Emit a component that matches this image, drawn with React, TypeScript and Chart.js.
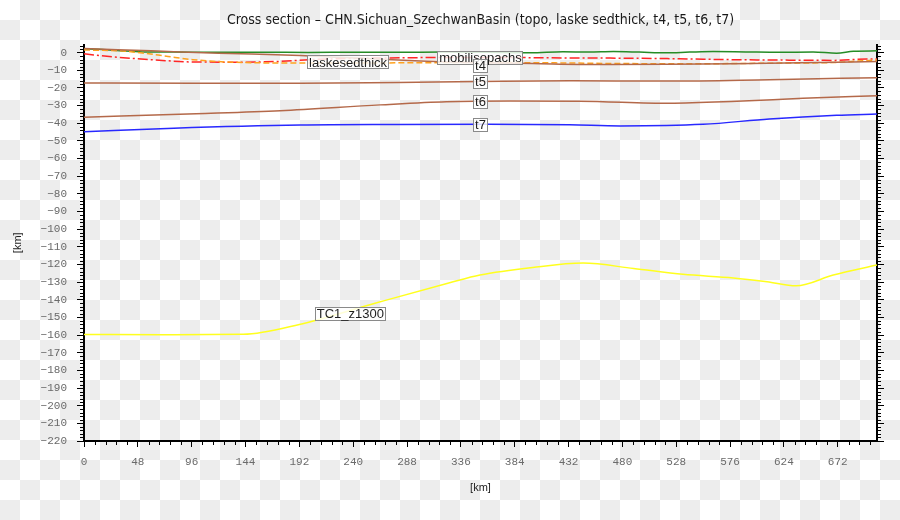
import React, { useEffect, useRef } from 'react';
import { Chart, registerables } from 'chart.js';

Chart.register(...registerables);

const TITLE = 'Cross section \u2013 CHN.Sichuan_SzechwanBasin (topo, laske sedthick, t4, t5, t6, t7)';
const AXIS_TITLE = '[km]';

const X_MAX = 707;
const X_STEP = 48;
const X_MINOR = 9.6;
const Y_MIN = -220;
const Y_MAX = 4.6;
const Y_STEP = 10;
const Y_MINOR = 2;

// topo
const topoKm = [0, 16, 32, 52, 80, 120, 160, 200, 240, 280, 320, 360, 398, 427, 450, 472, 495, 519, 540, 561, 590, 620, 650, 671, 686, 707];
const topoDepth = [2.1, 1.8, 1.1, 0.4, 0.3, 0.2, 0.2, 0.1, 0.2, 0.2, 0.3, 0.2, -0.1, 0.5, 0.3, 0.6, 0.3, -0.1, 0.3, 0.6, 0.4, 0.2, 0.3, -0.3, 0.8, 1.0];

// laske sedthick
const sedKm = [0, 26, 67, 97, 142, 172, 201, 225, 270, 320, 380, 430, 469, 520, 579, 638, 668, 698, 707];
const sedDepth = [-0.7, -2.4, -4.3, -5.3, -5.4, -5.0, -4.0, -3.5, -3.0, -2.8, -2.8, -3.0, -3.1, -3.4, -4.0, -4.3, -4.4, -3.6, -3.6];

// mobilisopachs
const mobKm = [0, 32, 52, 75, 97, 127, 157, 190, 240, 300, 360, 420, 480, 549, 609, 668, 690, 707];
const mobDepth = [1.5, 1.0, -0.2, -2.2, -4.0, -5.3, -5.8, -5.9, -5.9, -5.7, -5.6, -5.8, -6.2, -6.3, -6.0, -5.6, -4.8, -4.2];

// t4
const t4Km = [0, 60, 120, 193, 225, 260, 300, 340, 400, 460, 520, 580, 640, 707];
const t4Depth = [2.3, 1.0, -0.3, -1.7, -2.6, -3.6, -4.8, -5.6, -6.2, -6.7, -6.6, -6.3, -5.8, -5.0];

// t5
const t5Km = [0, 100, 193, 280, 353, 433, 522, 611, 707];
const t5Depth = [-17.2, -17.3, -17.4, -16.9, -16.4, -16.0, -16.1, -15.3, -14.2];

// t6
const t6Km = [0, 100, 175, 264, 323, 380, 442, 522, 582, 641, 707];
const t6Depth = [-36.6, -34.6, -32.9, -29.6, -27.8, -27.4, -27.5, -28.7, -27.6, -25.9, -24.4];

// t7
const t7Km = [0, 80, 193, 280, 360, 433, 478, 552, 611, 671, 707];
const t7Depth = [-44.8, -42.8, -41.0, -40.7, -40.6, -40.9, -41.5, -40.6, -37.6, -35.5, -34.8];

// TC1_z1300
const tcKm = [0, 70, 142, 192, 261, 326, 353, 400, 445, 490, 534, 579, 609, 635, 668, 707];
const tcDepth = [-159.7, -159.8, -159.6, -154.0, -141.7, -130.4, -126.0, -121.7, -119.2, -122.3, -125.6, -127.6, -129.8, -132.1, -126.0, -120.3];

// in-line labels
const labelNames = ['laskesedthick', 'mobilisopachs', 't4', 't5', 't6', 't7', 'TC1_z1300'];
const labelKm = [235, 353, 353, 353, 353, 353, 237];
const labelDepth = [-5.3, -3.0, -7.3, -16.3, -27.8, -40.7, -147.6];

const pts = (xs: number[], ys: number[]) => xs.map((x, i) => ({ x, y: ys[i] }));

const minus = (v: number | string) => String(v).replace('-', '\u2212');

const minorTicksPlugin = {
  id: 'minorTicks',
  afterDraw(chart: any) {
    const { ctx, chartArea } = chart;
    const x = chart.scales.x;
    const y = chart.scales.y;
    ctx.save();
    ctx.strokeStyle = '#000';
    ctx.lineWidth = 1;
    ctx.beginPath();
    for (let v = Y_MIN; v <= Y_MAX; v += Y_MINOR) {
      if (v % Y_STEP === 0) continue;
      const py = Math.round(y.getPixelForValue(v)) + 0.5;
      ctx.moveTo(chartArea.left - 4, py);
      ctx.lineTo(chartArea.left, py);
      ctx.moveTo(chartArea.right, py);
      ctx.lineTo(chartArea.right + 4, py);
    }
    for (let k = 1; k * X_MINOR <= X_MAX; k++) {
      if (k % 5 === 0) continue;
      const px = Math.round(x.getPixelForValue(k * X_MINOR)) + 0.5;
      ctx.moveTo(px, chartArea.bottom);
      ctx.lineTo(px, chartArea.bottom + 4);
    }
    ctx.stroke();
    ctx.restore();
  },
};

const labelPlugin = {
  id: 'lineLabels',
  afterDatasetsDraw(chart: any) {
    const { ctx } = chart;
    const x = chart.scales.x;
    const y = chart.scales.y;
    ctx.save();
    ctx.font = '13px "Liberation Sans", Arial, sans-serif';
    ctx.textAlign = 'center';
    ctx.textBaseline = 'middle';
    labelNames.forEach((t, i) => {
      const px = x.getPixelForValue(labelKm[i]);
      const py = y.getPixelForValue(labelDepth[i]);
      const w = Math.round(ctx.measureText(t).width + 3);
      const h = 13;
      const bx = Math.round(px - w / 2);
      const by = Math.round(py - h / 2);
      ctx.fillStyle = 'rgba(255,255,255,0.82)';
      ctx.fillRect(bx, by, w, h);
      ctx.strokeStyle = '#8a8a8a';
      ctx.lineWidth = 1;
      ctx.strokeRect(bx + 0.5, by + 0.5, w, h);
      ctx.fillStyle = '#1e1e1e';
      ctx.fillText(t, px + 0.5, py + 1);
    });
    ctx.restore();
  },
};

const tickFont = { family: '"Liberation Mono", "DejaVu Sans Mono", monospace', size: 11 };
const titleFont = { family: '"Liberation Sans", Arial, sans-serif', size: 11 };

export default function App() {
  const ref = useRef<HTMLCanvasElement>(null);

  useEffect(() => {
    if (!ref.current) return;
    const line = (label: string, xs: number[], ys: number[], color: string, dash: number[] = [], width = 1.5) => ({
      label,
      data: pts(xs, ys),
      borderColor: color,
      backgroundColor: color,
      borderWidth: width,
      borderDash: dash,
      pointRadius: 0,
      fill: false,
      cubicInterpolationMode: 'monotone' as const,
      yAxisID: 'y',
    });
    const chart = new Chart(ref.current, {
      type: 'line',
      data: {
        datasets: [
          line('TC1_z1300', tcKm, tcDepth, '#ffff1e'),
          line('t7', t7Km, t7Depth, '#2828ff'),
          line('t6', t6Km, t6Depth, '#b4694a'),
          line('t5', t5Km, t5Depth, '#b4694a'),
          line('t4', t4Km, t4Depth, '#b4694a'),
          line('mobilisopachs', mobKm, mobDepth, '#ffa21e', [6, 3]),
          line('laskesedthick', sedKm, sedDepth, '#ff2626', [10, 3, 2, 3]),
          line('topo', topoKm, topoDepth, '#268c26'),
        ],
      },
      options: {
        responsive: false,
        animation: false,
        layout: { padding: 0 },
        plugins: {
          legend: { display: false },
          tooltip: { enabled: false },
          title: {
            display: true,
            text: TITLE,
            fullSize: false,
            color: '#1a1a1a',
            font: { family: '"Liberation Sans Narrow", "DejaVu Sans Condensed", "Liberation Sans", sans-serif', size: 14, weight: 'normal' },
            padding: { top: 12, bottom: 15.7 },
          },
        },
        scales: {
          x: {
            type: 'linear',
            position: 'bottom',
            min: 0,
            max: X_MAX,
            afterFit: (s: any) => { s.height = 79; },
            border: { display: true, color: '#000', width: 2 },
            grid: { display: true, drawOnChartArea: false, drawTicks: true, tickLength: 6, tickColor: '#000', tickWidth: 1 },
            ticks: {
              stepSize: X_STEP,
              includeBounds: false,
              autoSkip: false,
              maxRotation: 0,
              color: '#6a6a6a',
              font: tickFont,
              padding: 8,
            },
            title: { display: true, text: AXIS_TITLE, color: '#222', font: titleFont, padding: { top: 0, bottom: 25 } },
          },
          y: {
            type: 'linear',
            position: 'left',
            min: Y_MIN,
            max: Y_MAX,
            afterFit: (s: any) => { s.width = 84; },
            border: { display: true, color: '#000', width: 2 },
            grid: { display: true, drawOnChartArea: false, drawTicks: true, tickLength: 7, tickColor: '#000', tickWidth: 1 },
            ticks: {
              stepSize: Y_STEP,
              includeBounds: false,
              autoSkip: false,
              color: '#6a6a6a',
              font: tickFont,
              padding: 10,
              callback: (v: any) => minus(v),
            },
            title: { display: true, text: AXIS_TITLE, color: '#222', font: titleFont, padding: { top: 11, bottom: 0 } },
          },
          y2: {
            type: 'linear',
            position: 'right',
            min: Y_MIN,
            max: Y_MAX,
            afterFit: (s: any) => { s.width = 23; },
            border: { display: true, color: '#000', width: 2 },
            grid: { display: true, drawOnChartArea: false, drawTicks: true, tickLength: 7, tickColor: '#000', tickWidth: 1 },
            ticks: { display: false, stepSize: Y_STEP, includeBounds: false },
          },
        },
      },
      plugins: [minorTicksPlugin, labelPlugin],
    } as any);
    return () => chart.destroy();
  }, []);

  return (
    <div
      style={{
        position: 'fixed',
        left: 0,
        top: 0,
        width: 900,
        height: 520,
        background: 'repeating-conic-gradient(#ededed 0% 25%, #ffffff 0% 50%) 0 0 / 40px 40px',
      }}
    >
      <canvas ref={ref} width={900} height={520} style={{ display: 'block' }} />
    </div>
  );
}
